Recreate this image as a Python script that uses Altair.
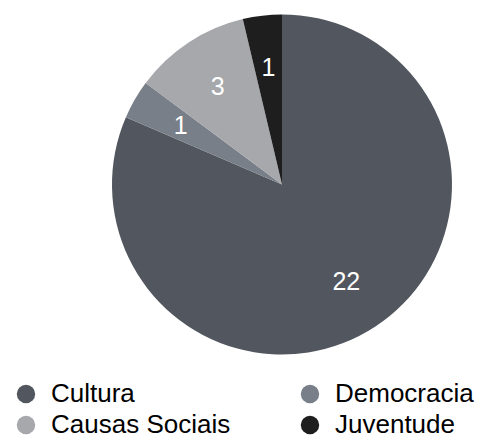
import altair as alt
import pandas as pd

categories = ["Cultura", "Democracia", "Causas Sociais", "Juventude"]
values = [22, 1, 3, 1]
colors = ["#52575f", "#797f88", "#a6a8ac", "#1e1e1e"]

# legend is filled column by column: order entries so rows read
# Cultura / Democracia, Causas Sociais / Juventude
legend_order = ["Cultura", "Causas Sociais", "Democracia", "Juventude"]
legend_colors = [colors[categories.index(c)] for c in legend_order]

df = pd.DataFrame({"categoria": categories, "valor": values, "ordem": list(range(len(categories)))})

base = alt.Chart(df).encode(
    theta=alt.Theta("valor:Q", stack=True),
    order=alt.Order("ordem:Q"),
)

pie = base.mark_arc(radius=170, stroke=None).encode(
    x=alt.value(274),
    y=alt.value(176.5),
    color=alt.Color(
        "categoria:N",
        scale=alt.Scale(domain=legend_order, range=legend_colors),
        sort=legend_order,
        legend=alt.Legend(
            title=None,
            orient="none",
            legendX=5,
            legendY=373,
            columns=2,
            columnPadding=66,
            rowPadding=5,
            symbolType="circle",
            symbolSize=340,
            symbolStrokeWidth=0,
            labelFontSize=26,
            labelFont="Liberation Sans",
            labelColor="#000000",
            labelOffset=12,
            labelLimit=0,
            padding=0,
        ),
    ),
)

labels = base.mark_text(
    radius=117, fontSize=25, font="Liberation Sans", color="white"
).encode(
    x=alt.value(274),
    y=alt.value(176.5),
    text=alt.Text("valor:Q"),
)

chart = (pie + labels).properties(width=471, height=424, padding=0).configure_view(stroke=None)

chart.save("out.html", embed_options={"renderer": "svg", "actions": False})
